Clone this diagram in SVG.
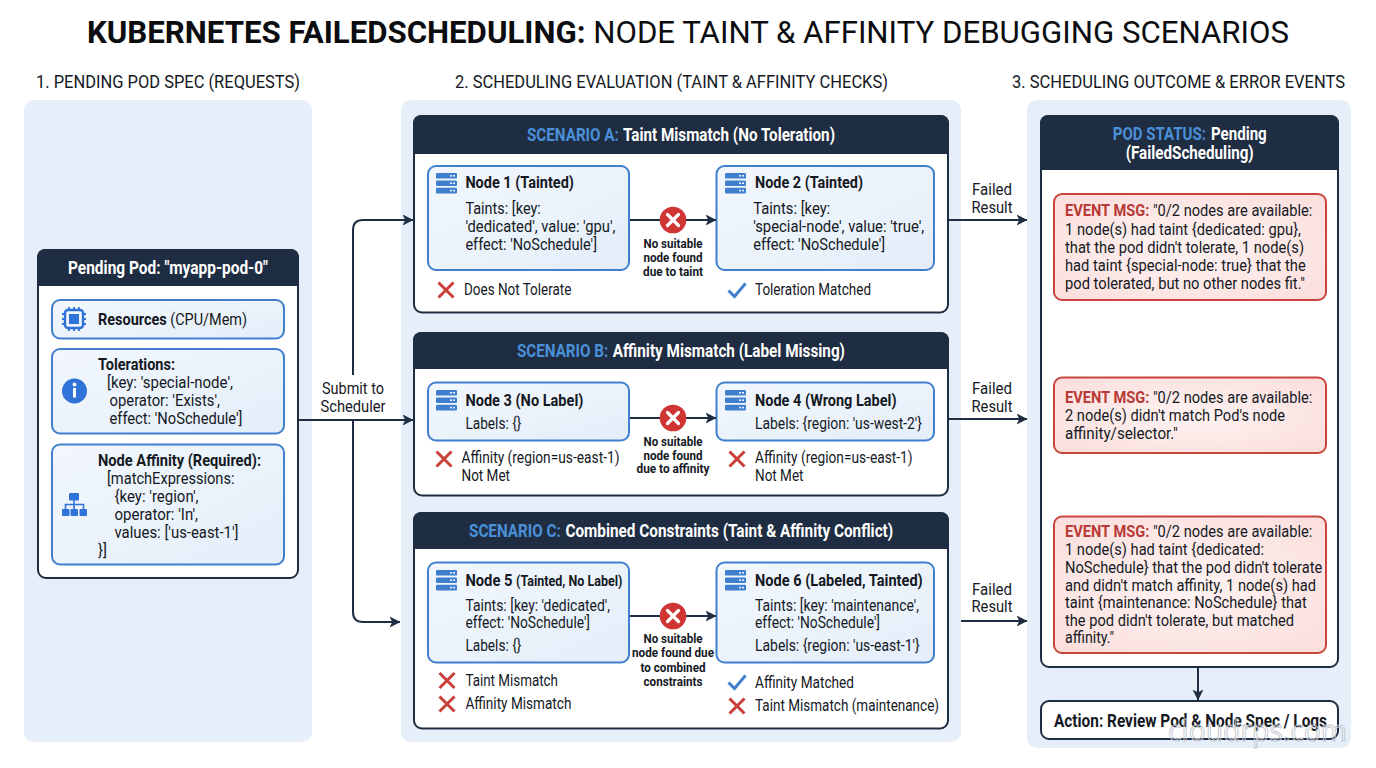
<svg xmlns="http://www.w3.org/2000/svg" xmlns:xlink="http://www.w3.org/1999/xlink" width="1376" height="768" viewBox="0 0 1376 768">
<style>
text{font-family:Roboto,"Liberation Sans",sans-serif;fill:#15191f}
.title{font-size:31.500px;text-anchor:middle;fill:#0b0d10}
.col{font-size:17.500px}
.hd{font-size:17.500px;font-weight:700;fill:#fff;text-anchor:middle}
.hs{font-size:17.500px;font-weight:700;fill:#fff}
.b{font-size:16px}
.bb{font-size:16px;font-weight:700}
.nt{font-size:16.500px;font-weight:700}
.sm{font-size:12.500px;font-weight:700;text-anchor:middle}
.mid{text-anchor:middle}
.hs.blue{fill:#4a90d9}
.red{fill:#b83a36;font-weight:700}
.panel{fill:#e6eff9}
.card{fill:#fff;stroke:#1f2d42;stroke-width:2}
.head{fill:#1f2d42}
.box{fill:url(#bg);stroke:#3f7fce;stroke-width:2}
.evt{fill:url(#eg);stroke:#c9443c;stroke-width:2}
.conn{fill:none;stroke:#1f2d42;stroke-width:2}
.wm{font-size:30px;fill:none;stroke:#c3c9d0;stroke-width:1;font-family:"Open Sans",sans-serif}
</style>
<defs>
<linearGradient id="bg" x1="0" y1="0" x2="1" y2="1"><stop offset="0" stop-color="#f2f7fd"/><stop offset="1" stop-color="#e4eef9"/></linearGradient>
<radialGradient id="eg" cx="0.500" cy="0.500" r="0.750"><stop offset="0" stop-color="#fef3f2"/><stop offset="1" stop-color="#fadcda"/></radialGradient>
<marker id="ah" viewBox="0 0 10 10" refX="9.500" refY="5" markerWidth="5.500" markerHeight="6" markerUnits="strokeWidth" orient="auto"><path d="M0 0L10 5L0 10L2.500 5Z" fill="#1f2d42"/></marker>
<g id="srv"><g fill="#3f7fce"><rect x="0" y="0" width="21" height="5.600" rx="1.200"/><rect x="0" y="7.400" width="21" height="5.600" rx="1.200"/><rect x="0" y="14.800" width="21" height="5.600" rx="1.200"/></g><g fill="#e8f1fb"><rect x="14" y="2" width="2" height="1.600"/><rect x="17" y="2" width="2" height="1.600"/><rect x="14" y="9.400" width="2" height="1.600"/><rect x="17" y="9.400" width="2" height="1.600"/><rect x="14" y="16.800" width="2" height="1.600"/><rect x="17" y="16.800" width="2" height="1.600"/></g></g>
<path id="xm" d="M-7.500 -7.500L7.500 7.500M7.500 -7.500L-7.500 7.500" fill="none" stroke="#c9403a" stroke-width="3"/>
<path id="ck" d="M-8.500 0.500L-2.500 6.500L8.500 -6.500" fill="none" stroke="#3f7fce" stroke-width="3"/>
<g id="xc"><circle r="13.300" fill="#cf3533"/><path d="M-5.500 -5.500L5.500 5.500M5.500 -5.500L-5.500 5.500" stroke="#fff" stroke-width="3.200" stroke-linecap="round"/></g>
</defs>
<rect width="1376" height="768" fill="#fff"/>
<text class="title" x="688" y="43" textLength="1202" lengthAdjust="spacingAndGlyphs"><tspan font-weight="700">KUBERNETES FAILEDSCHEDULING:</tspan> NODE TAINT &amp; AFFINITY DEBUGGING SCENARIOS</text>
<text class="col" x="36" y="88" textLength="264" lengthAdjust="spacingAndGlyphs">1. PENDING POD SPEC (REQUESTS)</text>
<text class="col" x="455" y="88" textLength="433" lengthAdjust="spacingAndGlyphs">2. SCHEDULING EVALUATION (TAINT &amp; AFFINITY CHECKS)</text>
<text class="col" x="1012" y="88" textLength="333" lengthAdjust="spacingAndGlyphs">3. SCHEDULING OUTCOME &amp; ERROR EVENTS</text>
<rect class="panel" x="24" y="100" width="288" height="642" rx="10"/>
<rect class="panel" x="401" y="100" width="560" height="642" rx="10"/>
<rect class="panel" x="1027" y="100" width="324" height="648" rx="10"/>

<g id="pod">
<rect class="card" x="38" y="250" width="260" height="328" rx="8"/>
<path class="head" d="M37 286V257a8 8 0 0 1 8-8H291a8 8 0 0 1 8 8V286Z"/>
<text class="hd" x="168" y="274" textLength="200" lengthAdjust="spacingAndGlyphs">Pending Pod: "myapp-pod-0"</text>
</g>
<g id="resources">
<rect class="box" x="52" y="300" width="232" height="38.500" rx="8"/>
<g fill="none" stroke="#2f72d8"><rect x="65" y="310" width="18" height="18" rx="3" stroke-width="2.400"/><rect x="69" y="314" width="10" height="10" fill="#2f72d8" stroke="none"/><path d="M62 314h3M62 319h3M62 324h3M83 314h3M83 319h3M83 324h3M69 307v3M74 307v3M79 307v3M69 328v3M74 328v3M79 328v3" stroke-width="1.800"/></g>
<text class="b" x="98" y="325" textLength="149" lengthAdjust="spacingAndGlyphs"><tspan font-weight="700">Resources</tspan> (CPU/Mem)</text>
</g>
<g id="tolerations">
<rect class="box" x="52" y="349" width="232" height="84.500" rx="8"/>
<circle cx="74.500" cy="391" r="12.500" fill="#2f72d8"/><circle cx="74.500" cy="384.500" r="1.900" fill="#fff"/><rect x="73" y="388" width="3" height="9.500" fill="#fff"/>
<text class="bb" x="98" y="370" textLength="77" lengthAdjust="spacingAndGlyphs">Tolerations:</text>
<text class="b" x="107" y="388" textLength="126" lengthAdjust="spacingAndGlyphs">[key: 'special-node',</text>
<text class="b" x="109.500" y="406" textLength="110.500" lengthAdjust="spacingAndGlyphs">operator: 'Exists',</text>
<text class="b" x="109.500" y="424" textLength="133" lengthAdjust="spacingAndGlyphs">effect: 'NoSchedule']</text>
</g>
<g id="affinity">
<rect class="box" x="52" y="444.500" width="232" height="120" rx="8"/>
<g fill="#2f72d8"><rect x="69" y="493" width="10" height="7.500" rx="1"/><rect x="62" y="509" width="7.500" height="7" rx="1"/><rect x="70.500" y="509" width="7.500" height="7" rx="1"/><rect x="79.500" y="509" width="7.500" height="7" rx="1"/><path d="M74 500v9M65.500 509v-4.500h18v4.500" fill="none" stroke="#2f72d8" stroke-width="1.600"/></g>
<text class="bb" x="98" y="466" textLength="163" lengthAdjust="spacingAndGlyphs">Node Affinity (Required):</text>
<text class="b" x="107" y="484" textLength="127.500" lengthAdjust="spacingAndGlyphs">[matchExpressions:</text>
<text class="b" x="114.500" y="502" textLength="84" lengthAdjust="spacingAndGlyphs">{key: 'region',</text>
<text class="b" x="114.500" y="520" textLength="83.500" lengthAdjust="spacingAndGlyphs">operator: 'In',</text>
<text class="b" x="114.500" y="538" textLength="124" lengthAdjust="spacingAndGlyphs">values: ['us-east-1']</text>
<text class="b" x="98" y="556" textLength="9" lengthAdjust="spacingAndGlyphs">}]</text>
</g>

<g id="scenario-a">
<rect class="card" x="414" y="116" width="534" height="196.500" rx="8"/>
<path class="head" d="M413 154V123a8 8 0 0 1 8-8H941a8 8 0 0 1 8 8V154Z"/>
<text class="hs blue" x="527" y="140.500" textLength="91.800" lengthAdjust="spacingAndGlyphs">SCENARIO A:</text>
<text class="hs" x="623" y="140.500" textLength="212" lengthAdjust="spacingAndGlyphs">Taint Mismatch (No Toleration)</text>
<use xlink:href="#xm" href="#xm" x="446" y="290"/><text class="b" x="464" y="295" textLength="107.400" lengthAdjust="spacingAndGlyphs">Does Not Tolerate</text>
<use xlink:href="#ck" href="#ck" x="737" y="290"/><text class="b" x="755" y="295" textLength="116" lengthAdjust="spacingAndGlyphs">Toleration Matched</text>
</g>
<g id="node-1">
<rect class="box" x="428" y="166" width="201" height="104" rx="8"/>
<use xlink:href="#srv" href="#srv" x="436" y="173"/>
<text class="nt" x="465.400" y="188" textLength="108.500" lengthAdjust="spacingAndGlyphs">Node 1 (Tainted)</text>
<text class="b" x="465.400" y="214" textLength="75.400" lengthAdjust="spacingAndGlyphs">Taints: [key:</text><text class="b" x="465.400" y="232" textLength="150" lengthAdjust="spacingAndGlyphs">'dedicated', value: 'gpu',</text><text class="b" x="465.400" y="249.500" textLength="131.600" lengthAdjust="spacingAndGlyphs">effect: 'NoSchedule']</text>
</g>
<g id="node-2">
<rect class="box" x="716.500" y="166" width="217.500" height="104" rx="8"/>
<use xlink:href="#srv" href="#srv" x="725" y="173"/>
<text class="nt" x="755" y="188" textLength="108" lengthAdjust="spacingAndGlyphs">Node 2 (Tainted)</text>
<text class="b" x="753.200" y="214" textLength="77" lengthAdjust="spacingAndGlyphs">Taints: [key:</text><text class="b" x="753.200" y="232" textLength="171" lengthAdjust="spacingAndGlyphs">'special-node', value: 'true',</text><text class="b" x="753.200" y="249.500" textLength="132" lengthAdjust="spacingAndGlyphs">effect: 'NoSchedule']</text>
</g>

<g id="scenario-b">
<rect class="card" x="414" y="333" width="534" height="162.500" rx="8"/>
<path class="head" d="M413 369V340a8 8 0 0 1 8-8H941a8 8 0 0 1 8 8V369Z"/>
<text class="hs blue" x="517" y="357" textLength="91.200" lengthAdjust="spacingAndGlyphs">SCENARIO B:</text>
<text class="hs" x="612.800" y="357" textLength="232.200" lengthAdjust="spacingAndGlyphs">Affinity Mismatch (Label Missing)</text>
<use xlink:href="#xm" href="#xm" x="444" y="459"/><text class="b" x="461.500" y="463" textLength="158" lengthAdjust="spacingAndGlyphs">Affinity (region=us-east-1)</text><text class="b" x="461.500" y="481" textLength="48.500" lengthAdjust="spacingAndGlyphs">Not Met</text>
<use xlink:href="#xm" href="#xm" x="737" y="459"/><text class="b" x="755" y="463" textLength="157.500" lengthAdjust="spacingAndGlyphs">Affinity (region=us-east-1)</text><text class="b" x="755" y="481" textLength="48.500" lengthAdjust="spacingAndGlyphs">Not Met</text>
</g>
<g id="node-3">
<rect class="box" x="428" y="382.500" width="201" height="58" rx="8"/>
<use xlink:href="#srv" href="#srv" x="436" y="390"/>
<text class="nt" x="465.400" y="406" textLength="118" lengthAdjust="spacingAndGlyphs">Node 3 (No Label)</text>
<text class="b" x="465.400" y="429" textLength="56" lengthAdjust="spacingAndGlyphs">Labels: {}</text>
</g>
<g id="node-4">
<rect class="box" x="716.500" y="382.500" width="217.500" height="58" rx="8"/>
<use xlink:href="#srv" href="#srv" x="725" y="390"/>
<text class="nt" x="755" y="406" textLength="141.500" lengthAdjust="spacingAndGlyphs">Node 4 (Wrong Label)</text>
<text class="b" x="755" y="429" textLength="167" lengthAdjust="spacingAndGlyphs">Labels: {region: 'us-west-2'}</text>
</g>

<g id="scenario-c">
<rect class="card" x="414" y="513" width="534" height="215.500" rx="8"/>
<path class="head" d="M413 549V520a8 8 0 0 1 8-8H941a8 8 0 0 1 8 8V549Z"/>
<text class="hs blue" x="469" y="537" textLength="91.900" lengthAdjust="spacingAndGlyphs">SCENARIO C:</text>
<text class="hs" x="565.400" y="537" textLength="327.800" lengthAdjust="spacingAndGlyphs">Combined Constraints (Taint &amp; Affinity Conflict)</text>
<use xlink:href="#xm" href="#xm" x="447" y="680.500"/><text class="b" x="465.400" y="685.700" textLength="92.600" lengthAdjust="spacingAndGlyphs">Taint Mismatch</text>
<use xlink:href="#xm" href="#xm" x="447" y="704"/><text class="b" x="465.400" y="709" textLength="106" lengthAdjust="spacingAndGlyphs">Affinity Mismatch</text>
<use xlink:href="#ck" href="#ck" x="737" y="682"/><text class="b" x="755" y="687.700" textLength="99" lengthAdjust="spacingAndGlyphs">Affinity Matched</text>
<use xlink:href="#xm" href="#xm" x="737" y="706"/><text class="b" x="755" y="711" textLength="184" lengthAdjust="spacingAndGlyphs">Taint Mismatch (maintenance)</text>
</g>
<g id="node-5">
<rect class="box" x="428" y="562.500" width="201" height="100" rx="8"/>
<use xlink:href="#srv" href="#srv" x="436" y="570"/>
<text class="nt" x="465.400" y="586" textLength="157" lengthAdjust="spacingAndGlyphs">Node 5 <tspan font-size="14px">(Tainted, No Label)</tspan></text>
<text class="b" x="465.400" y="610.700" textLength="144.600" lengthAdjust="spacingAndGlyphs">Taints: [key: 'dedicated',</text><text class="b" x="465.400" y="627.700" textLength="124.600" lengthAdjust="spacingAndGlyphs">effect: 'NoSchedule']</text><text class="b" x="465.400" y="651" textLength="56" lengthAdjust="spacingAndGlyphs">Labels: {}</text>
</g>
<g id="node-6">
<rect class="box" x="716.500" y="562.500" width="217.500" height="100" rx="8"/>
<use xlink:href="#srv" href="#srv" x="725" y="570"/>
<text class="nt" x="755" y="586" textLength="167.700" lengthAdjust="spacingAndGlyphs">Node 6 (Labeled, Tainted)</text>
<text class="b" x="755" y="610.700" textLength="164" lengthAdjust="spacingAndGlyphs">Taints: [key: 'maintenance',</text><text class="b" x="755" y="627.700" textLength="125" lengthAdjust="spacingAndGlyphs">effect: 'NoSchedule']</text><text class="b" x="755" y="651" textLength="164.600" lengthAdjust="spacingAndGlyphs">Labels: {region: 'us-east-1'}</text>
</g>

<g id="status">
<rect class="card" x="1041" y="116" width="297" height="551" rx="8"/>
<path class="head" d="M1040 170V123a8 8 0 0 1 8-8H1331a8 8 0 0 1 8 8V170Z"/>
<text class="hs blue" x="1112.700" y="140" textLength="93.300" lengthAdjust="spacingAndGlyphs">POD STATUS:</text>
<text class="hs" x="1211" y="140" textLength="55.700" lengthAdjust="spacingAndGlyphs">Pending</text>
<text class="hd" x="1189.700" y="159" textLength="128" lengthAdjust="spacingAndGlyphs">(FailedScheduling)</text>
</g>
<g id="event-1">
<rect class="evt" x="1054" y="194" width="272" height="106" rx="8"/>
<text class="b" x="1065" y="216" textLength="247.300" lengthAdjust="spacingAndGlyphs"><tspan class="red">EVENT MSG:</tspan> "0/2 nodes are available:</text>
<text class="b" x="1065" y="235" textLength="236" lengthAdjust="spacingAndGlyphs">1 node(s) had taint {dedicated: gpu},</text>
<text class="b" x="1065" y="252.700" textLength="239" lengthAdjust="spacingAndGlyphs">that the pod didn't tolerate, 1 node(s)</text>
<text class="b" x="1065" y="270.700" textLength="240.700" lengthAdjust="spacingAndGlyphs">had taint {special-node: true} that the</text>
<text class="b" x="1065" y="288.500" textLength="240" lengthAdjust="spacingAndGlyphs">pod tolerated, but no other nodes fit."</text>
</g>
<g id="event-2">
<rect class="evt" x="1054" y="377.500" width="272" height="75.500" rx="8"/>
<text class="b" x="1065" y="403" textLength="247.300" lengthAdjust="spacingAndGlyphs"><tspan class="red">EVENT MSG:</tspan> "0/2 nodes are available:</text>
<text class="b" x="1065" y="421" textLength="220" lengthAdjust="spacingAndGlyphs">2 node(s) didn't match Pod's node</text>
<text class="b" x="1065" y="439" textLength="113" lengthAdjust="spacingAndGlyphs">affinity/selector."</text>
</g>
<g id="event-3">
<rect class="evt" x="1054" y="516.500" width="272" height="136.500" rx="8"/>
<text class="b" x="1065" y="537" textLength="247.300" lengthAdjust="spacingAndGlyphs"><tspan class="red">EVENT MSG:</tspan> "0/2 nodes are available:</text>
<text class="b" x="1065" y="555" textLength="199" lengthAdjust="spacingAndGlyphs">1 node(s) had taint {dedicated:</text>
<text class="b" x="1065" y="572.700" textLength="257.300" lengthAdjust="spacingAndGlyphs">NoSchedule} that the pod didn't tolerate</text>
<text class="b" x="1065" y="590.700" textLength="251" lengthAdjust="spacingAndGlyphs">and didn't match affinity, 1 node(s) had</text>
<text class="b" x="1065" y="608" textLength="241.700" lengthAdjust="spacingAndGlyphs">taint {maintenance: NoSchedule} that</text>
<text class="b" x="1065" y="626" textLength="229" lengthAdjust="spacingAndGlyphs">the pod didn't tolerate, but matched</text>
<text class="b" x="1065" y="643" textLength="49" lengthAdjust="spacingAndGlyphs">affinity."</text>
</g>
<g id="action">
<rect class="card" x="1041" y="701" width="297" height="38" rx="8"/>
<text class="mid" x="1190.500" y="727" font-size="17.500" font-weight="700" textLength="273" lengthAdjust="spacingAndGlyphs">Action: Review Pod &amp; Node Spec / Logs</text>
</g>

<g id="connectors">
<path class="conn" d="M299 420H413" marker-end="url(#ah)"/>
<path class="conn" d="M353 375V230Q353 220 363 220H413" marker-end="url(#ah)"/>
<path class="conn" d="M353 420V612Q353 622 363 622H400" marker-end="url(#ah)"/>
<path class="conn" d="M949 220H1027" marker-end="url(#ah)"/>
<path class="conn" d="M949 419H1027" marker-end="url(#ah)"/>
<path class="conn" d="M961 621H1027" marker-end="url(#ah)"/>
<path class="conn" d="M630 220H716" marker-end="url(#ah)"/>
<path class="conn" d="M630 418H716" marker-end="url(#ah)"/>
<path class="conn" d="M630 616H716" marker-end="url(#ah)"/>
<path class="conn" d="M1198 667V700" marker-end="url(#ah)"/>
<use xlink:href="#xc" href="#xc" x="673" y="220"/>
<use xlink:href="#xc" href="#xc" x="673" y="418"/>
<use xlink:href="#xc" href="#xc" x="673" y="616"/>
<text class="b mid" x="353" y="394" textLength="62" lengthAdjust="spacingAndGlyphs">Submit to</text><text class="b mid" x="353" y="412" textLength="65" lengthAdjust="spacingAndGlyphs">Scheduler</text>
<text class="b mid" x="992" y="195" textLength="40" lengthAdjust="spacingAndGlyphs">Failed</text><text class="b mid" x="992" y="213" textLength="41" lengthAdjust="spacingAndGlyphs">Result</text>
<text class="b mid" x="992" y="394" textLength="40" lengthAdjust="spacingAndGlyphs">Failed</text><text class="b mid" x="992" y="412" textLength="41" lengthAdjust="spacingAndGlyphs">Result</text>
<text class="b mid" x="992" y="595" textLength="40" lengthAdjust="spacingAndGlyphs">Failed</text><text class="b mid" x="992" y="612" textLength="41" lengthAdjust="spacingAndGlyphs">Result</text>
<text class="sm" x="673" y="247.700" textLength="59" lengthAdjust="spacingAndGlyphs">No suitable</text><text class="sm" x="673" y="261.700" textLength="59" lengthAdjust="spacingAndGlyphs">node found</text><text class="sm" x="673" y="275.700" textLength="60" lengthAdjust="spacingAndGlyphs">due to taint</text>
<text class="sm" x="673" y="445.700" textLength="59" lengthAdjust="spacingAndGlyphs">No suitable</text><text class="sm" x="673" y="459.500" textLength="59" lengthAdjust="spacingAndGlyphs">node found</text><text class="sm" x="673" y="473" textLength="73" lengthAdjust="spacingAndGlyphs">due to affinity</text>
<text class="sm" x="673" y="643.300" textLength="59" lengthAdjust="spacingAndGlyphs">No suitable</text><text class="sm" x="673" y="657.300" textLength="82" lengthAdjust="spacingAndGlyphs">node found due</text><text class="sm" x="673" y="671.500" textLength="65" lengthAdjust="spacingAndGlyphs">to combined</text><text class="sm" x="673" y="685.500" textLength="59" lengthAdjust="spacingAndGlyphs">constraints</text>
</g>
<text class="wm" x="1168" y="741" textLength="179" lengthAdjust="spacingAndGlyphs">cloudrps.com</text>
</svg>
